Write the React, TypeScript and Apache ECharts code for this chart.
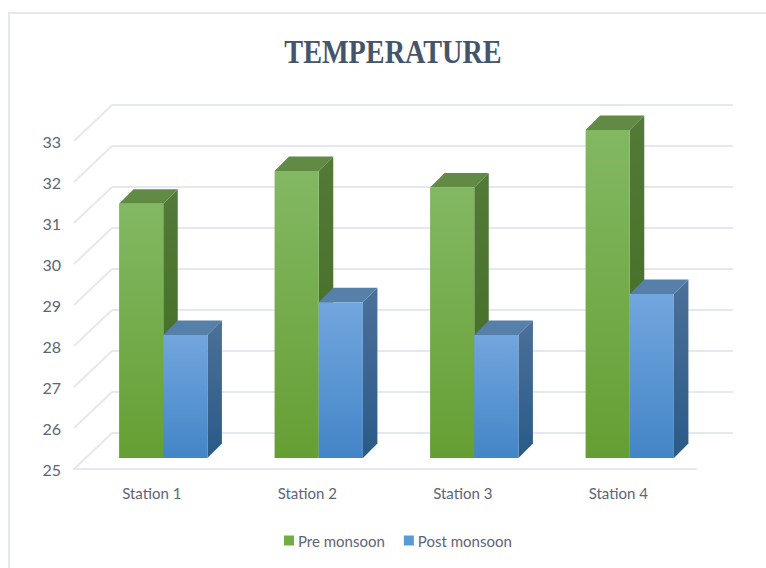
import React, { useEffect, useRef } from "react";
import * as echarts from "echarts";

const categories = ["Station 1", "Station 2", "Station 3", "Station 4"];
const preMonsoon = [31.2, 32, 31.6, 33];
const postMonsoon = [28, 28.8, 28, 29];
const gridTicks = [25, 26, 27, 28, 29, 30, 31, 32, 33];

const LINE = "#e5e8ef";
const TEXT = "#5b6579";
const FONT = "Lato, 'Open Sans', sans-serif";

const vGrad = (a: string, b: string) =>
  new echarts.graphic.LinearGradient(0, 0, 0, 1, [
    { offset: 0, color: a },
    { offset: 1, color: b },
  ]);

const DEPTH = 14.5;
const BAR_SHIFT_X = 11.5;
const BAR_SHIFT_Y = 11;

function barSeries(
  name: string,
  values: number[],
  legendColor: string,
  side: number,
  colors: { front: [string, string]; side: [string, string]; top: string }
) {
  return {
    name,
    type: "custom",
    xAxisIndex: 0,
    yAxisIndex: 0,
    clip: false,
    z: side < 0 ? 3 : 4,
    itemStyle: { color: legendColor },
    data: values.map((v, i) => [i, v]),
    encode: { x: 0, y: 1 },
    renderItem: (_p: any, api: any) => {
      const top = api.coord([api.value(0), api.value(1)]);
      const base = api.coord([api.value(0), 25]);
      const w = api.size([1, 0])[0] * 0.284;
      const cx = top[0] + BAR_SHIFT_X;
      const x0 = side < 0 ? cx - w : cx;
      const x1 = x0 + w;
      const yt = top[1] - BAR_SHIFT_Y;
      const yb = base[1] - BAR_SHIFT_Y;
      return {
        type: "group",
        children: [
          {
            type: "polygon",
            shape: { points: [[x1, yt], [x1 + DEPTH, yt - DEPTH], [x1 + DEPTH, yb - DEPTH], [x1, yb]] },
            style: { fill: vGrad(colors.side[0], colors.side[1]) },
          },
          {
            type: "polygon",
            shape: { points: [[x0, yt], [x0 + DEPTH, yt - DEPTH], [x1 + DEPTH, yt - DEPTH], [x1, yt]] },
            style: { fill: colors.top },
          },
          {
            type: "rect",
            shape: { x: x0, y: yt, width: w, height: yb - yt },
            style: { fill: vGrad(colors.front[0], colors.front[1]) },
          },
        ],
      };
    },
  };
}

export default function App() {
  const ref = useRef<HTMLDivElement>(null);
  useEffect(() => {
    const chart = echarts.init(ref.current!, null, { renderer: "svg" });
    chart.setOption({
      animation: false,
      backgroundColor: "#ffffff",
      legend: {
        left: 284,
        top: 533,
        icon: "rect",
        itemWidth: 10,
        itemHeight: 10,
        itemGap: 19,
        padding: 0,
        data: ["Pre monsoon", "Post monsoon"],
        textStyle: { fontFamily: FONT, fontSize: 15, color: TEXT, padding: [0, 0, 0, -1] },
      },
      grid: [
        { left: 74, top: 141, width: 622, height: 328 },
        { left: 112, top: 105, width: 621, height: 328 },
      ],
      xAxis: [
        {
          gridIndex: 0,
          type: "category",
          data: categories,
          axisTick: { show: false },
          axisLine: { lineStyle: { color: LINE, width: 2 } },
          axisLabel: { fontFamily: FONT, fontSize: 15, color: TEXT, margin: 16 },
        },
        { gridIndex: 1, type: "category", data: categories, show: false },
      ],
      yAxis: [
        {
          gridIndex: 0,
          type: "value",
          min: 25,
          max: 33,
          interval: 1,
          axisLine: { show: false },
          axisTick: { show: false },
          splitLine: { show: false },
          axisLabel: { fontFamily: FONT, fontSize: 16, color: TEXT, margin: 13, padding: [0, 0, 2, 0] },
        },
        {
          gridIndex: 1,
          type: "value",
          min: 25,
          max: 33,
          interval: 1,
          axisLine: { show: false },
          axisTick: { show: false },
          axisLabel: { show: false },
          splitLine: { show: true, lineStyle: { color: LINE, width: 2 } },
        },
      ],
      series: [
        {
          type: "custom",
          xAxisIndex: 0,
          yAxisIndex: 0,
          clip: false,
          silent: true,
          z: 1,
          data: gridTicks.map((t) => [0, t]),
          encode: { x: 0, y: 1 },
          renderItem: (p: any, api: any) => {
            const y = api.coord([0, api.value(1)])[1];
            const x = p.coordSys.x;
            return {
              type: "line",
              shape: { x1: x, y1: y, x2: x + 38, y2: y - 36 },
              style: { stroke: LINE, lineWidth: 2 },
            };
          },
        },
        barSeries("Pre monsoon", preMonsoon, "#70ad47", -1, {
          front: ["#83b863", "#659f33"],
          side: ["#537a38", "#3f6b1f"],
          top: "#618a45",
        }),
        barSeries("Post monsoon", postMonsoon, "#5b9bd5", 1, {
          front: ["#72a6de", "#4385c7"],
          side: ["#4c7099", "#2a5a87"],
          top: "#567fa9",
        }),
      ],
      graphic: [
        {
          type: "polyline",
          silent: true,
          shape: { points: [[9, 568], [9, 13], [766, 13]] },
          style: { stroke: LINE, lineWidth: 2, fill: "none" },
        },
        {
          type: "text",
          silent: true,
          x: 393,
          y: 51.5,
          scaleX: 0.83,
          style: {
            text: "TEMPERATURE",
            align: "center",
            verticalAlign: "middle",
            fontFamily: "'Liberation Serif', serif",
            fontWeight: "bold",
            fontSize: 34,
            fill: "#44546a",
          },
        },
      ],
    });
    return () => chart.dispose();
  }, []);
  return <div ref={ref} style={{ position: "absolute", left: 0, top: 0, width: 766, height: 568 }} />;
}
